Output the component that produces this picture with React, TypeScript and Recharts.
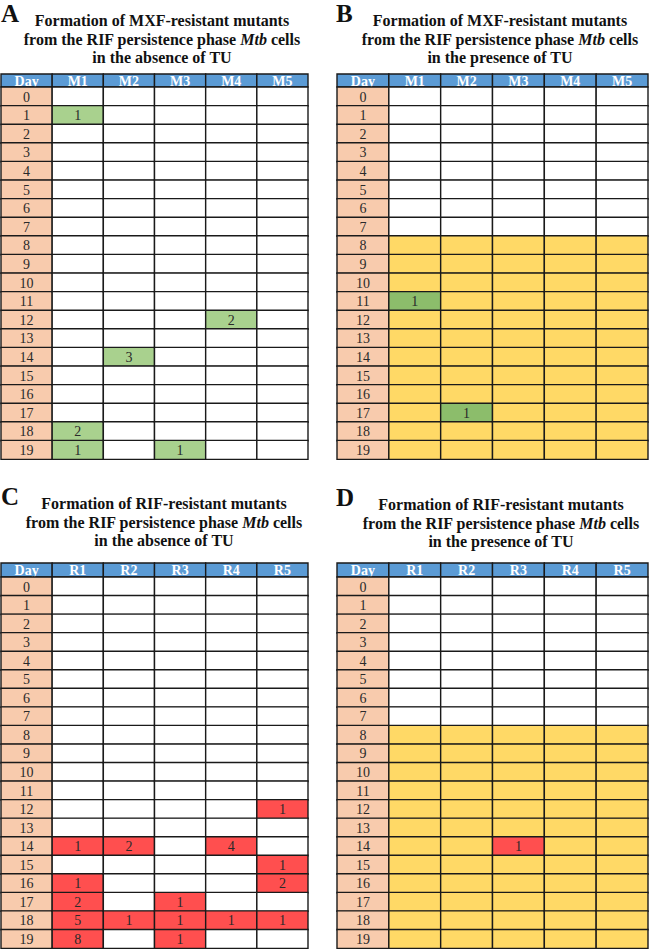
import React from "react";
import { BarChart, Bar, XAxis, YAxis, Cell, LabelList } from "recharts";

const serif = "'Liberation Serif', 'Times New Roman', serif";

const days = [0, 1, 2, 3, 4, 5, 6, 7, 8, 9, 10, 11, 12, 13, 14, 15, 16, 17, 18, 19];
const mxfCols = ["M1", "M2", "M3", "M4", "M5"];
const rifCols = ["R1", "R2", "R3", "R4", "R5"];

// [day, column, number of resistant mutants]
const hitsA: [number, string, number][] = [
  [1, "M1", 1],
  [12, "M4", 2],
  [14, "M2", 3],
  [18, "M1", 2],
  [19, "M1", 1],
  [19, "M3", 1],
];
const hitsB: [number, string, number][] = [
  [11, "M1", 1],
  [17, "M2", 1],
];
const hitsC: [number, string, number][] = [
  [12, "R5", 1],
  [14, "R1", 1],
  [14, "R2", 2],
  [14, "R4", 4],
  [15, "R5", 1],
  [16, "R1", 1],
  [16, "R5", 2],
  [17, "R1", 2],
  [17, "R3", 1],
  [18, "R1", 5],
  [18, "R2", 1],
  [18, "R3", 1],
  [18, "R4", 1],
  [18, "R5", 1],
  [19, "R1", 8],
  [19, "R3", 1],
];
const hitsD: [number, string, number][] = [[14, "R3", 1]];

// TU was added from this day on (panels B and D)
const tuFromDay = 8;

const titleLineA = "Formation of MXF-resistant mutants";
const titleLineC = "Formation of RIF-resistant mutants";
const titleLine3Abs = "in the absence of TU";
const titleLine3Pres = "in the presence of TU";

const BLUE = "#5B9BD5";
const PEACH = "#F8CBAD";
const YELLOW = "#FFD966";
const BORDER = "#1a1a1a";

type Hit = [number, string, number];

const buildRows = (cols: string[], hits: Hit[]) =>
  days.map((d) => {
    const row: Record<string, any> = { day: String(d), Day: 1, Day_label: String(d) };
    cols.forEach((c) => {
      const h = hits.find((x) => x[0] === d && x[1] === c);
      row[c] = 1;
      row[c + "_label"] = h ? String(h[2]) : "";
    });
    return row;
  });

const buildHeader = (cols: string[]) => {
  const row: Record<string, any> = { day: "Day", Day: 1, Day_label: "Day" };
  cols.forEach((c) => {
    row[c] = 1;
    row[c + "_label"] = c;
  });
  return [row];
};

// centred cell text, drawn at the bar's own box
const cellText = (size: number, color: string, bold: boolean) => (p: any) => {
  if (!p.value) return null;
  return (
    <text
      x={Number(p.x) + Number(p.width) / 2}
      y={Number(p.y) + Number(p.height) / 2}
      dy="0.36em"
      textAnchor="middle"
      fontFamily={serif}
      fontSize={size}
      fontWeight={bold ? "bold" : "normal"}
      fill={color}
    >
      {p.value}
    </text>
  );
};

type TableProps = {
  left: number;
  top: number;
  width: number;
  headerH: number;
  bodyH: number;
  cols: string[];
  hits: Hit[];
  hitColor: string;
  tu: boolean;
};

const Table = ({ left, top, width, headerH, bodyH, cols, hits, hitColor, tu }: TableProps) => {
  const rows = buildRows(cols, hits);
  const header = buildHeader(cols);
  const keys = ["Day", ...cols];
  const m = { top: 1, right: 1, bottom: 1, left: 1 };

  const cellFill = (key: string, r: Record<string, any>) => {
    if (key === "Day") return PEACH;
    if (r[key + "_label"]) return hitColor;
    if (tu && Number(r.day) >= tuFromDay) return YELLOW;
    return "#ffffff";
  };

  return (
    <>
      <div style={{ position: "absolute", left: left - 1, top: top - 1 }}>
        <BarChart layout="vertical" width={width + 2} height={headerH + 2} data={header} margin={m} barCategoryGap={0}>
          <XAxis type="number" domain={[0, 6]} hide />
          <YAxis type="category" dataKey="day" hide />
          {keys.map((k) => (
            <Bar key={k} dataKey={k} stackId="h" fill={BLUE} stroke={BORDER} strokeWidth={1.4} isAnimationActive={false}>
              <LabelList dataKey={k + "_label"} content={cellText(14, "#ffffff", true)} />
            </Bar>
          ))}
        </BarChart>
      </div>
      <div style={{ position: "absolute", left: left - 1, top: top + headerH - 1 }}>
        <BarChart layout="vertical" width={width + 2} height={bodyH + 2} data={rows} margin={m} barCategoryGap={0}>
          <XAxis type="number" domain={[0, 6]} hide />
          <YAxis type="category" dataKey="day" hide />
          {keys.map((k) => (
            <Bar key={k} dataKey={k} stackId="b" stroke={BORDER} strokeWidth={1.4} isAnimationActive={false}>
              {rows.map((r, i) => (
                <Cell key={i} fill={cellFill(k, r)} />
              ))}
              <LabelList dataKey={k + "_label"} content={cellText(14, "#2a2a2a", false)} />
            </Bar>
          ))}
        </BarChart>
      </div>
    </>
  );
};

const Title = ({ letter, lx, cx, base, line1, line3 }: { letter: string; lx: number; cx: number; base: number; line1: string; line3: string }) => (
  <g fontFamily={serif} fontWeight="bold" fill="#111">
    <text x={lx} y={base - 4} fontSize={25}>
      {letter}
    </text>
    <text x={cx} y={base} fontSize={16} textAnchor="middle">
      {line1}
    </text>
    <text x={cx} y={base + 18.5} fontSize={16} textAnchor="middle">
      from the RIF persistence phase <tspan fontStyle="italic">Mtb</tspan> cells
    </text>
    <text x={cx} y={base + 37} fontSize={16} textAnchor="middle">
      {line3}
    </text>
  </g>
);

export default function App() {
  return (
    <div style={{ position: "absolute", left: 0, top: 0, width: 650, height: 950, background: "#fff" }}>
      <svg width={650} height={950} style={{ position: "absolute", left: 0, top: 0 }}>
        <Title letter="A" lx={1} cx={162} base={26} line1={titleLineA} line3={titleLine3Abs} />
        <Title letter="B" lx={336} cx={500} base={26} line1={titleLineA} line3={titleLine3Pres} />
        <Title letter="C" lx={1} cx={164} base={509} line1={titleLineC} line3={titleLine3Abs} />
        <Title letter="D" lx={336} cx={501} base={510} line1={titleLineC} line3={titleLine3Pres} />
      </svg>
      <Table left={1} top={74} width={307} headerH={13} bodyH={372} cols={mxfCols} hits={hitsA} hitColor="#A9D18E" tu={false} />
      <Table left={337} top={74} width={311} headerH={13} bodyH={372} cols={mxfCols} hits={hitsB} hitColor="#8CBD6B" tu={true} />
      <Table left={1} top={563} width={307} headerH={14} bodyH={371} cols={rifCols} hits={hitsC} hitColor="#FF4F4F" tu={false} />
      <Table left={337} top={563} width={311} headerH={14} bodyH={371} cols={rifCols} hits={hitsD} hitColor="#FF4F4F" tu={true} />
    </div>
  );
}
